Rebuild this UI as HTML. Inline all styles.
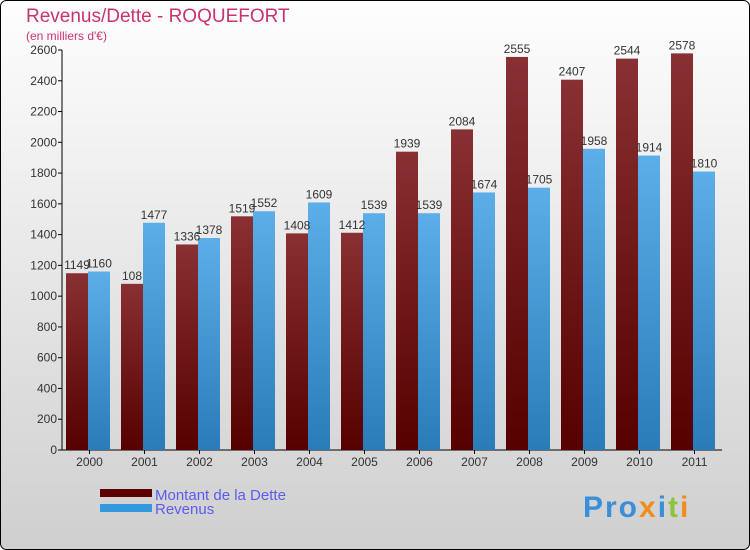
<!DOCTYPE html>
<html><head><meta charset="utf-8"><style>
body{margin:0;width:750px;height:550px;overflow:hidden}
svg{display:block;font-family:"Liberation Sans",sans-serif}
</style></head><body>
<svg width="750" height="550">
<defs>
<linearGradient id="bg" x1="0" y1="0" x2="0" y2="1"><stop offset="0" stop-color="#fefefe"/><stop offset="1" stop-color="#cfcfcf"/></linearGradient>
<linearGradient id="gd" x1="0" y1="0" x2="0" y2="1"><stop offset="0" stop-color="#883033"/><stop offset="1" stop-color="#560000"/></linearGradient>
<linearGradient id="gr" x1="0" y1="0" x2="0" y2="1"><stop offset="0" stop-color="#5caee8"/><stop offset="1" stop-color="#2a7cb8"/></linearGradient>
</defs>
<rect x="0.5" y="0.5" width="749" height="549" rx="6" fill="url(#bg)" stroke="#000"/>
<text x="26" y="22" font-size="19" fill="#c8336e">Revenus/Dette - ROQUEFORT</text>
<text x="26" y="40" font-size="12" fill="#c8336e">(en milliers d'€)</text>
<g id="axes"></g>
<g id="bars"></g>
<rect x="100" y="489" width="52" height="8" fill="#5a0000"/>
<text x="155" y="500" font-size="15" fill="#5b5bf0">Montant de la Dette</text>
<rect x="100" y="504" width="52" height="8" fill="#3399dd"/>
<text x="155" y="514" font-size="15" fill="#5b5bf0">Revenus</text>
<text x="583" y="517" font-size="30" font-weight="bold" letter-spacing="2"><tspan fill="#3a8fd8">Pro</tspan><tspan fill="#f08c1a">x</tspan><tspan fill="#3a8fd8">i</tspan><tspan fill="#8cc43c">t</tspan><tspan fill="#f08c1a">i</tspan></text>
</svg>
<script>
const years=["2000","2001","2002","2003","2004","2005","2006","2007","2008","2009","2010","2011"];
const dette=[1149,1080,1336,1519,1408,1412,1939,2084,2555,2407,2544,2578];
const detteLabels=["1149","108","1336","1519","1408","1412","1939","2084","2555","2407","2544","2578"];
const revenus=[1160,1477,1378,1552,1609,1539,1539,1674,1705,1958,1914,1810];
const yTicks=[0,200,400,600,800,1000,1200,1400,1600,1800,2000,2200,2400,2600];
const NS="http://www.w3.org/2000/svg";
const x0=62,y0=450,gw=55,yMax=2600,ph=400;
const ys=v=>y0-v/yMax*ph;
function mk(t,a,p){const e=document.createElementNS(NS,t);for(const k in a)e.setAttribute(k,a[k]);p.appendChild(e);return e;}
const ax=document.getElementById('axes'),bg=document.getElementById('bars');
const yl=mk('line',{x1:x0,y1:y0,x2:x0,y2:ys(yMax),stroke:'#000'},ax);


const xl=mk('line',{x1:x0,y1:y0,x2:x0+gw*years.length,y2:y0,stroke:'#000'},ax);


yTicks.forEach(v=>{
 mk('line',{x1:x0-4,y1:ys(v),x2:x0,y2:ys(v),stroke:'#000'},ax);
 const t=mk('text',{x:x0-5,y:ys(v)+4,'font-size':12,fill:'#333','text-anchor':'end'},ax);
 t.textContent=v;
 
 
});
years.forEach((yr,i)=>{
 const gx=x0+i*gw;
 mk('line',{x1:gx+gw/2,y1:y0,x2:gx+gw/2,y2:y0+4,stroke:'#000'},ax);
 const t=mk('text',{x:gx+gw/2,y:y0+16,'font-size':12,fill:'#333','text-anchor':'middle'},ax);
 t.textContent=yr;
 
 
 const b1=mk('rect',{x:gx+4,y:ys(dette[i]),width:22,height:y0-ys(dette[i]),fill:'url(#gd)'},bg);
 
 
 const b2=mk('rect',{x:gx+26,y:ys(revenus[i]),width:22,height:y0-ys(revenus[i]),fill:'url(#gr)'},bg);
 
 
 const l1=mk('text',{x:gx+15,y:ys(dette[i])-4,'font-size':12,fill:'#333','text-anchor':'middle'},bg);
 l1.textContent=detteLabels[i];
 
 
 const l2=mk('text',{x:gx+37,y:ys(revenus[i])-4,'font-size':12,fill:'#333','text-anchor':'middle'},bg);
 l2.textContent=revenus[i];
 
 
});
</script>
</body></html>
